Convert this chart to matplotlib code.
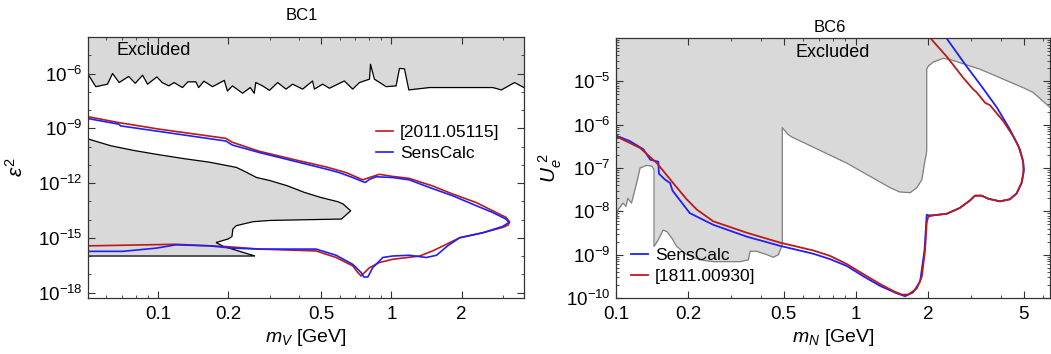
import matplotlib
matplotlib.use("Agg")
import matplotlib.pyplot as plt
import numpy as np
from matplotlib.ticker import FixedLocator, FuncFormatter, NullFormatter

plt.rcParams['font.family'] = ['Liberation Sans', 'DejaVu Sans']
plt.rcParams['mathtext.fontset'] = 'custom'
plt.rcParams['mathtext.rm'] = 'Liberation Sans'
plt.rcParams['mathtext.it'] = 'Liberation Sans:italic'

# ---------------- BC1 data (m_V [GeV], eps^2) ----------------
mV_top = [0.05, 0.054, 0.0606, 0.0637, 0.068, 0.0747, 0.0797, 0.0857, 0.09, 0.0987,
          0.104, 0.111, 0.117, 0.127, 0.134, 0.145, 0.149, 0.157, 0.171, 0.192,
          0.198, 0.208, 0.23, 0.248, 0.258, 0.262, 0.28, 0.3, 0.325, 0.353,
          0.377, 0.416, 0.459, 0.467, 0.507, 0.542, 0.628, 0.682, 0.729, 0.805,
          0.813, 0.845, 0.949, 1.047, 1.082, 1.137, 1.187, 1.455, 2.72, 2.96,
          3.37, 3.7]
eps_top = [9.1e-7, 1.9e-7, 2.6e-7, 1.0e-6, 3.2e-7, 6.9e-7, 2.9e-7, 8.1e-7, 2.6e-7, 6.5e-7,
           3.2e-7, 2.1e-7, 3.2e-7, 1.7e-7, 3.5e-7, 3.5e-7, 1.7e-7, 3.8e-7, 1.9e-7, 4.2e-7,
           1.1e-7, 2.1e-7, 8.3e-8, 1.7e-7, 8.3e-8, 3.2e-7, 2.1e-7, 1.2e-7, 3.2e-7, 1.4e-7,
           2.6e-7, 1.4e-7, 3.9e-7, 1.4e-7, 2.6e-7, 1.56e-7, 3.9e-7, 1.4e-7, 3.2e-7, 4.9e-7,
           3.2e-6, 4.9e-7, 1.9e-7, 2.1e-7, 1.9e-6, 1.8e-6, 1.26e-7, 1.7e-7, 1.7e-7, 1.26e-7,
           3.2e-7, 1.7e-7]

mV_low = [0.05, 0.0626, 0.079, 0.1, 0.131, 0.165, 0.216, 0.231, 0.264, 0.302,
          0.357, 0.422, 0.499, 0.589, 0.62, 0.669, 0.61, 0.422, 0.302, 0.255,
          0.216, 0.209, 0.207, 0.199, 0.177, 0.19, 0.26, 0.05]
eps_low = [2.6e-10, 1.1e-10, 6e-11, 3.6e-11, 2.1e-11, 1.4e-11, 7.2e-12, 4.8e-12, 2e-12, 1.35e-12,
           7.1e-13, 3.1e-13, 1.6e-13, 9.5e-14, 7.1e-14, 3e-14, 1.06e-14, 9.7e-15, 8.9e-15, 7.6e-15,
           4.6e-15, 3e-15, 1.15e-15, 8.5e-16, 5.5e-16, 3.4e-16, 1e-16, 1e-16]

mV_ref = [0.05, 0.067, 0.1, 0.195, 0.208, 0.271, 0.377, 0.525, 0.64, 0.753,
          0.805, 0.888, 1.01, 1.19, 1.5, 1.83, 2.31, 2.72, 3.1, 3.21,
          3.16, 3.0, 2.47, 1.96, 1.72, 1.5, 1.32, 1.01, 0.888, 0.805,
          0.741, 0.717, 0.682, 0.579, 0.475, 0.377, 0.271, 0.195, 0.119, 0.05]
eps_ref = [4.3e-9, 2.1e-9, 9.1e-10, 2.8e-10, 1.7e-10, 5.5e-11, 2e-11, 7.6e-12, 3.7e-12, 1.5e-12,
           2e-12, 3e-12, 2.3e-12, 1.8e-12, 6.9e-13, 2.5e-13, 8.5e-14, 3e-14, 1.3e-14, 7.4e-15,
           4.9e-15, 3.7e-15, 1.9e-15, 1e-15, 4.4e-16, 1.9e-16, 1e-16, 6.6e-17, 4.4e-17, 2.3e-17,
           8.1e-18, 1.25e-17, 2.9e-17, 8.3e-17, 1.9e-16, 2.1e-16, 2.4e-16, 3.3e-16, 4.4e-16, 3.6e-16]

mV_sc = [0.05, 0.068, 0.0689, 0.195, 0.208, 0.271, 0.525, 0.598, 0.682, 0.753,
         0.773, 0.805, 0.86, 1.01, 1.19, 1.46, 1.83, 2.23, 2.72, 3.1,
         3.19, 3.0, 2.47, 1.96, 1.74, 1.56, 1.41, 1.32, 1.19, 1.01,
         0.918, 0.831, 0.792, 0.761, 0.741, 0.682, 0.579, 0.475, 0.271, 0.208,
         0.166, 0.119, 0.098, 0.0703, 0.05]
eps_sc = [3.4e-9, 1.66e-9, 1.35e-9, 2e-10, 1.2e-10, 4.7e-11, 5.8e-12, 3.7e-12, 2e-12, 1.2e-12,
          1.07e-12, 1.6e-12, 2.2e-12, 2e-12, 1.5e-12, 5.6e-13, 2e-13, 6.9e-14, 2.4e-14, 1.05e-14,
          6.9e-15, 4.2e-15, 1.9e-15, 1e-15, 3.6e-16, 1.1e-16, 8.3e-17, 9.3e-17, 1.1e-16, 1e-16,
          8.3e-17, 2.3e-17, 7.1e-18, 7.1e-18, 1.25e-17, 3.5e-17, 1.1e-16, 2.4e-16, 2.4e-16, 2.7e-16,
          3.6e-16, 4.1e-16, 2.7e-16, 1.8e-16, 1.8e-16]

# ---------------- BC6 data (m_N [GeV], U_e^2) ----------------
mN_excl = [0.1, 0.1006, 0.102, 0.107, 0.11, 0.112, 0.116, 0.12, 0.122, 0.126,
           0.134, 0.141, 0.144, 0.144, 0.15, 0.157, 0.163, 0.171, 0.179, 0.197,
           0.224, 0.254, 0.329, 0.356, 0.362, 0.385, 0.425, 0.452, 0.475, 0.493,
           0.493, 0.522, 0.54, 0.914, 1.39, 1.52, 1.68, 1.79, 1.88, 1.94,
           1.96, 1.97, 1.97, 2.0, 2.1, 2.31, 2.46, 3.29, 4.98, 5.48, 6.43]
U2_excl = [8e-9, 6.9e-9, 1.1e-8, 1.55e-8, 1.3e-8, 2e-8, 1.55e-8, 3.2e-8, 4.6e-8, 1e-7,
           1.15e-7, 1.1e-7, 9.3e-8, 1.55e-9, 2.2e-9, 3.7e-9, 3.4e-9, 2.4e-9, 1.55e-9, 1e-9,
           7.6e-10, 6.9e-10, 6.9e-10, 7.6e-10, 1.2e-9, 1.2e-9, 1e-9, 8.7e-10, 1e-9, 1.7e-9,
           8.5e-7, 5.9e-7, 5.2e-7, 1.3e-7, 3.5e-8, 2.8e-8, 2.7e-8, 3.5e-8, 5.4e-8, 1.55e-7,
           2e-7, 2.5e-7, 1.9e-5, 2.25e-5, 2.8e-5, 3.4e-5, 3.2e-5, 1.9e-5, 7.1e-6, 5.5e-6, 2.5e-6]

mN_sc = [0.1, 0.114, 0.13, 0.139, 0.15, 0.151, 0.16, 0.168, 0.172, 0.203,
         0.254, 0.351, 0.482, 0.664, 0.779, 0.914, 1.07, 1.26, 1.47, 1.6,
         1.73, 1.85, 1.93, 1.97, 2.0, 2.1, 2.39, 2.71, 2.99, 3.13,
         3.34, 3.56, 3.98, 4.38, 4.67, 4.9, 5.01, 4.95, 4.75, 4.38,
         3.86, 3.29, 2.89, 2.35]
U2_sc = [5.6e-7, 4.2e-7, 2.7e-7, 1.55e-7, 1.4e-7, 7.4e-8, 5.4e-8, 4.5e-8, 3e-8, 9.1e-9,
         4.9e-9, 2.6e-9, 1.6e-9, 1.05e-9, 7.9e-10, 5.5e-10, 3.2e-10, 1.9e-10, 1.3e-10, 1.1e-10,
         1.35e-10, 2.4e-10, 1.3e-9, 8.3e-9, 8.1e-9, 8.1e-9, 8.8e-9, 1.2e-8, 1.8e-8, 2.3e-8,
         2.3e-8, 1.95e-8, 1.7e-8, 1.9e-8, 2.6e-8, 4.6e-8, 9e-8, 1.55e-7, 3.2e-7, 7.7e-7,
         2.5e-6, 8.5e-6, 2.2e-5, 1.1e-4]

mN_ref = [0.1, 0.126, 0.148, 0.173, 0.197, 0.217, 0.254, 0.351, 0.482, 0.664,
          0.779, 0.914, 1.07, 1.26, 1.43, 1.55, 1.65, 1.79, 1.88, 1.94,
          1.97, 2.0, 2.1, 2.39, 2.71, 2.99, 3.13, 3.34, 3.56, 3.98,
          4.38, 4.67, 4.9, 4.98, 4.98, 4.82, 4.52, 4.11, 3.62, 3.45,
          3.18, 3.08, 2.8, 2.39, 1.98]
U2_ref = [5.4e-7, 2.9e-7, 1.3e-7, 4.5e-8, 1.9e-8, 1.1e-8, 5.9e-9, 3.2e-9, 1.9e-9, 1.25e-9,
          9.4e-10, 6.1e-10, 3.6e-10, 2.1e-10, 1.45e-10, 1.2e-10, 1.2e-10, 1.65e-10, 3.1e-10, 1.3e-9,
          5.4e-9, 7.6e-9, 8.1e-9, 8.8e-9, 1.2e-8, 1.8e-8, 2.3e-8, 2.3e-8, 1.95e-8, 1.7e-8,
          1.9e-8, 2.6e-8, 4.6e-8, 7.8e-8, 1.3e-7, 2.7e-7, 5.4e-7, 1.2e-6, 2.8e-6, 3.2e-6,
          5.6e-6, 6.5e-6, 1.2e-5, 3.7e-5, 1.2e-4]

GRAY = '#d9d9d9'
RED = '#bb1a1a'
BLUE = '#1f1fff'
FRAME = '#333333'

fig = plt.figure(figsize=(10.51, 3.54), dpi=100)
ax1 = fig.add_axes([88/1051, 1-298/354, 436/1051, 261/354])
ax2 = fig.add_axes([616/1051, 1-298/354, 434/1051, 260/354])


def sci(v, pos):
    e = int(round(np.log10(v)))
    return r'$10^{%d}$' % e


def style(ax, xmaj, xlabels, xmin, ymaj, ymin):
    ax.set_xscale('log')
    ax.set_yscale('log')
    ax.xaxis.set_major_locator(FixedLocator(xmaj))
    ax.xaxis.set_major_formatter(FuncFormatter(lambda v, p: xlabels[xmaj.index(v)] if v in xmaj else ''))
    ax.xaxis.set_minor_locator(FixedLocator(xmin))
    ax.xaxis.set_minor_formatter(NullFormatter())
    ax.yaxis.set_major_locator(FixedLocator(ymaj))
    ax.yaxis.set_major_formatter(FuncFormatter(sci))
    ax.yaxis.set_minor_locator(FixedLocator(ymin))
    ax.yaxis.set_minor_formatter(NullFormatter())
    ax.tick_params(which='both', direction='in', top=True, right=True, color=FRAME,
                   labelsize=13.5, pad=4)
    ax.tick_params(axis='x', which='major', pad=6)
    ax.tick_params(which='major', length=5, width=0.8)
    ax.tick_params(which='minor', length=2.5, width=0.6)
    for s in ax.spines.values():
        s.set_color(FRAME)
        s.set_linewidth(0.9)


# ---- BC1 ----
ax1.fill_between(mV_top, eps_top, 1e-3, color=GRAY, lw=0)
ax1.plot(mV_top, eps_top, color='black', lw=0.9)
ax1.fill(mV_low, eps_low, facecolor=GRAY, edgecolor='black', lw=0.9)
ax1.plot(mV_ref, eps_ref, color=RED, lw=1.2, label='[2011.05115]')
ax1.plot(mV_sc, eps_sc, color=BLUE, lw=1.2, label='SensCalc')
ax1.set_xlim(0.05, 3.7)
ax1.set_ylim(10**-18.3, 1e-4)
style(ax1, [0.1, 0.2, 0.5, 1, 2], ['0.1', '0.2', '0.5', '1', '2'],
      [0.06, 0.07, 0.08, 0.09, 0.3, 0.4, 0.6, 0.7, 0.8, 0.9, 3],
      [1e-6, 1e-9, 1e-12, 1e-15, 1e-18],
      [10.0**e for e in range(-19, -3) if e % 3 != 0])
ax1.text(0.066, 1.9e-5, 'Excluded', fontsize=13, va='center', ha='left')
ax1.legend(loc='upper left', bbox_to_anchor=(0.64, 0.695), frameon=False, fontsize=12.5,
           handlelength=1.0, handletextpad=0.4, labelspacing=0.3, borderpad=0)
ax1.set_xlabel(r'$m_V$ [GeV]', fontsize=14, labelpad=3)
ax1.set_ylabel(r'$\epsilon^2$', fontsize=15, labelpad=8)
fig.text(302/1051, 1-16/354, 'BC1', ha='center', va='center', fontsize=12)

# ---- BC6 ----
ax2.fill_between(mN_excl, U2_excl, 1e-3, color=GRAY, lw=0)
ax2.plot(mN_excl, U2_excl, color='#808080', lw=0.9)
ax2.plot(mN_sc, U2_sc, color=BLUE, lw=1.3, label='SensCalc')
ax2.plot(mN_ref, U2_ref, color=RED, lw=1.3, label='[1811.00930]')
ax2.set_xlim(0.1, 6.43)
ax2.set_ylim(1e-10, 1e-4)
style(ax2, [0.1, 0.2, 0.5, 1, 2, 5], ['0.1', '0.2', '0.5', '1', '2', '5'],
      [0.3, 0.4, 0.6, 0.7, 0.8, 0.9, 3, 4, 6],
      [1e-5, 1e-6, 1e-7, 1e-8, 1e-9, 1e-10],
      [m * 10.0**e for e in range(-11, -4) for m in range(2, 10)])
ax2.text(0.80, 4.6e-5, 'Excluded', fontsize=13, ha='center', va='center')
ax2.legend(loc='lower left', bbox_to_anchor=(0.014, 0.022), frameon=False, fontsize=12.5,
           handlelength=1.0, handletextpad=0.4, labelspacing=0.3, borderpad=0)
ax2.set_xlabel(r'$m_N$ [GeV]', fontsize=14, labelpad=3)
ax2.set_ylabel(r'$U_e^{\ 2}$', fontsize=15, labelpad=1)
fig.text(830/1051, 1-27/354, 'BC6', ha='center', va='center', fontsize=12)

fig.savefig('out.png', dpi=100)
